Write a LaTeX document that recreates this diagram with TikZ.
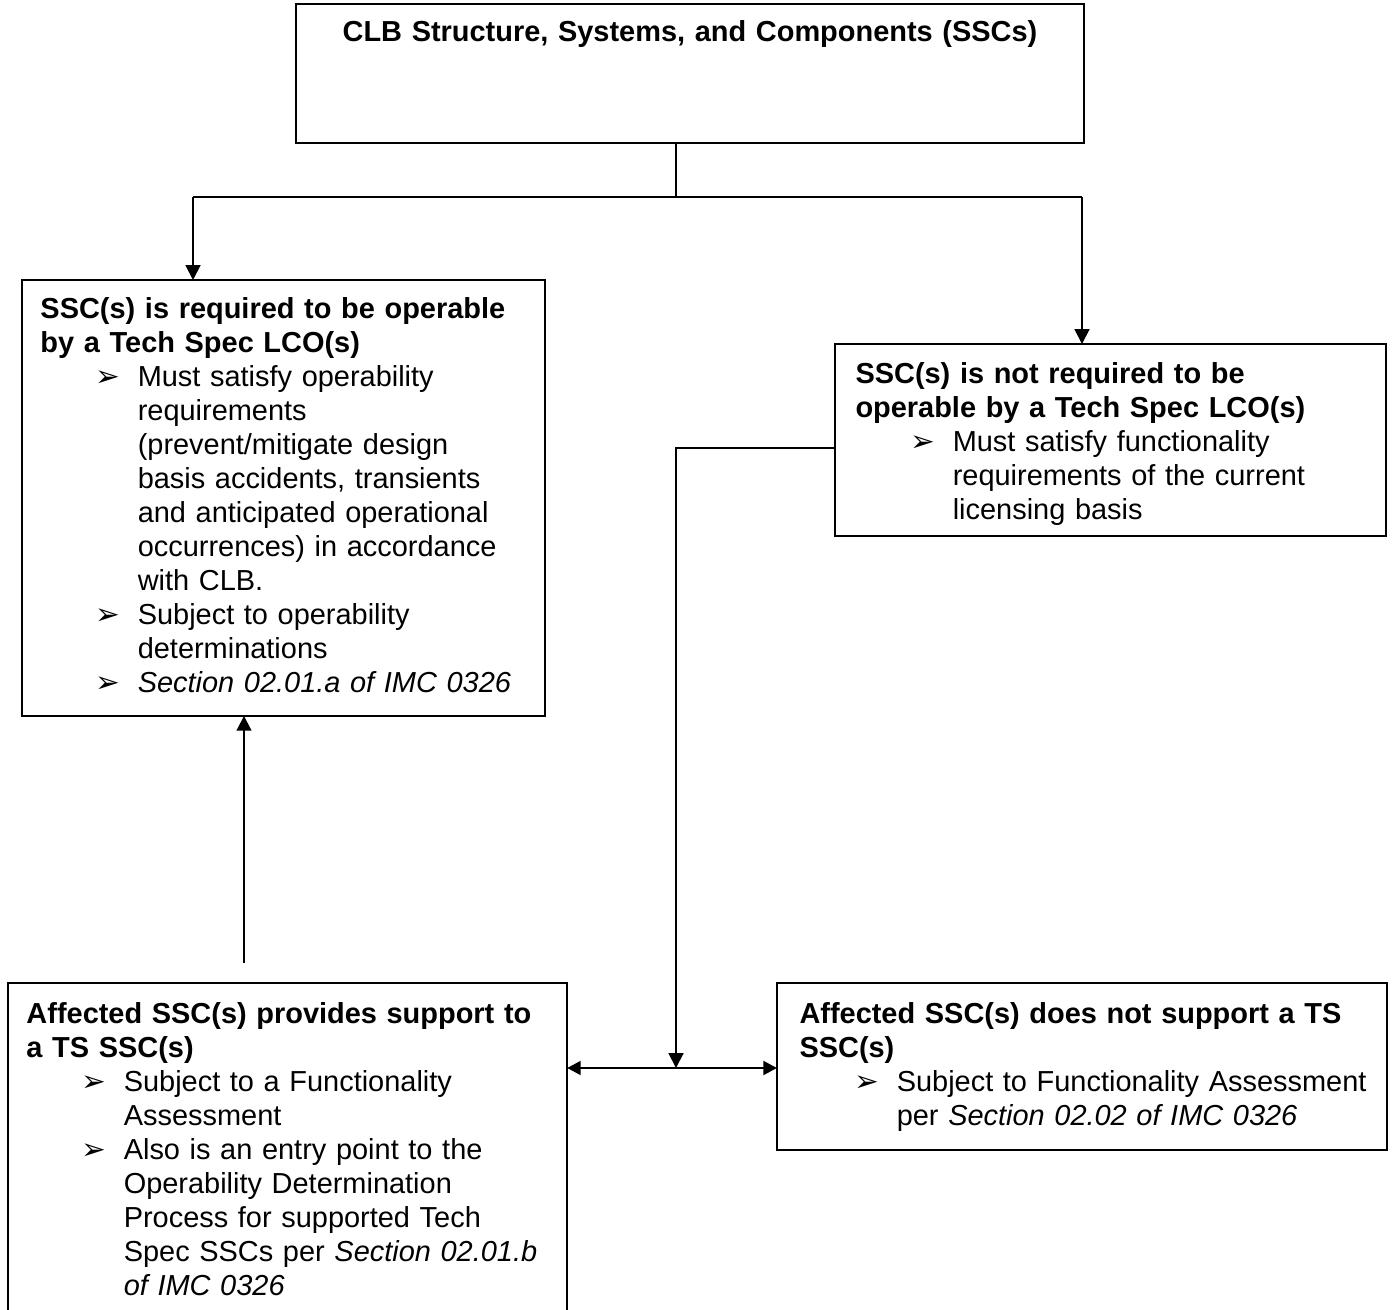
\documentclass[tikz,border=0pt]{standalone}
\usepackage{fontspec}
\setmainfont{Liberation Sans}
\newfontfamily\dejavu{DejaVu Sans}
\usetikzlibrary{arrows.meta}
\setlength{\parindent}{0pt}
\setlength{\parskip}{0pt}
\newcommand{\arrowitem}{\par\leftskip=39.5pt\noindent\llap{\makebox[17pt][l]{\dejavu\fontsize{12}{12}\selectfont ➢}}}

\begin{document}
\begin{tikzpicture}[x=0.406pt,y=-0.406pt,
  frame/.style={draw, line width=0.8pt, anchor=north west, inner sep=0pt, outer sep=0pt},
  body/.style={anchor=north west, inner sep=0pt, align=left, text width=#1,
    font=\fontsize{11.75}{13.8}\selectfont},
  link/.style={line width=0.8pt},
  tip/.style={-{Triangle[length=6pt,width=6pt]}},
  both/.style={line width=1.2pt, {Triangle[length=5.5pt,width=5.5pt]}-{Triangle[length=5.5pt,width=5.5pt]}}]
\useasboundingbox (0,0) rectangle (1392,1310);
\node[frame, minimum width=319.9pt, minimum height=56.4pt] (clb) at (296,4) {};
\node[frame, minimum width=212.3pt, minimum height=177pt] (req) at (22,280) {};
\node[frame, minimum width=223.7pt, minimum height=78pt] (notreq) at (835,344) {};
\node[frame, minimum width=227pt, minimum height=145pt] (support) at (8,983) {};
\node[frame, minimum width=247.7pt, minimum height=67.8pt] (nosupport) at (777,983) {};

\node[body=310pt, align=center, anchor=north, font=\fontsize{11.75}{13.8}\selectfont\bfseries] (clbtext) at (690,20)
  {CLB Structure, Systems, and Components (SSCs)};
\node[body=205pt] (reqtext) at (40,297) {\textbf{SSC(s) is required to be operable\\by a Tech Spec LCO(s)}
  \arrowitem Must satisfy operability\\requirements\\(prevent/mitigate design\\basis accidents, transients\\and anticipated operational\\occurrences) in accordance\\with CLB.
  \arrowitem Subject to operability\\determinations
  \arrowitem \textit{Section 02.01.a of IMC 0326}\par};
\node[body=218pt] (notreqtext) at (855,362) {\textbf{SSC(s) is not required to be\\operable by a Tech Spec LCO(s)}
  \arrowitem Must satisfy functionality\\requirements of the current\\licensing basis\par};
\node[body=222pt] (supporttext) at (26,1002) {\textbf{Affected SSC(s) provides support to\\a TS SSC(s)}
  \arrowitem Subject to a Functionality\\Assessment
  \arrowitem Also is an entry point to the\\Operability Determination\\Process for supported Tech\\Spec SSCs per \textit{Section 02.01.b}\\\textit{of IMC 0326}\par};
\node[body=242pt] (nosupporttext) at (799,1002) {\textbf{Affected SSC(s) does not support a TS\\SSC(s)}
  \arrowitem Subject to Functionality Assessment\\per \textit{Section 02.02 of IMC 0326}\par};

\coordinate (split) at (676,197);
\coordinate (leftturn) at (193,197);
\coordinate (rightturn) at (1082,197);
\coordinate (bend) at (676,448);
\coordinate (tee) at (676,1068);
\coordinate (upfoot) at (244,963);

\draw[link] (split |- clb.south) -- (split);
\draw[link] (leftturn) -- (rightturn);
\draw[link, tip] (leftturn) -- (leftturn |- req.north);
\draw[link, tip] (rightturn) -- (rightturn |- notreq.north);
\draw[link, tip] (bend -| notreq.west) -- (bend) -- (tee);
\draw[both] (tee -| support.east) -- (tee -| nosupport.west);
\draw[link, tip] (upfoot) -- (upfoot |- req.south);
\end{tikzpicture}
\end{document}
